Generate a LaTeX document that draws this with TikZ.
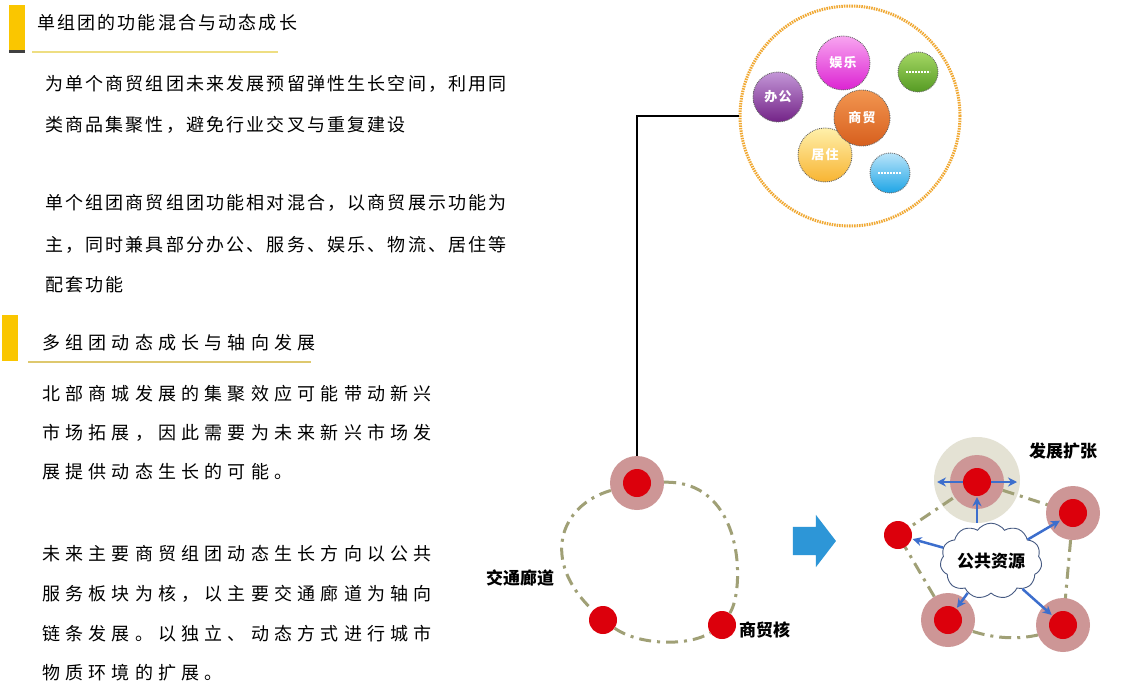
\documentclass[tikz,border=0pt]{standalone}
\usepackage{fontspec}
\setmainfont{Noto Sans CJK SC}
\usetikzlibrary{shapes.symbols,shapes.arrows,arrows.meta}
\definecolor{barY}{RGB}{250,198,0}
\definecolor{lineY}{RGB}{238,222,130}
\definecolor{lineG}{RGB}{222,200,110}
\definecolor{haloC}{RGB}{205,150,150}
\definecolor{bigHalo}{RGB}{228,226,212}
\definecolor{coreR}{RGB}{220,0,12}
\definecolor{roadC}{RGB}{160,160,118}
\definecolor{arrowB}{RGB}{60,110,205}
\definecolor{blockB}{RGB}{45,150,215}
\definecolor{cloudC}{RGB}{70,90,130}
\definecolor{ringO}{RGB}{240,168,50}
\newcommand\bodyA{\fontsize{18}{18}\selectfont\addfontfeatures{LetterSpace=12}}
\newcommand\bodyB{\fontsize{18}{18}\selectfont\addfontfeatures{LetterSpace=29}}
\tikzset{
  txtA/.style={anchor=west,inner sep=0,font=\bodyA},
  txtB/.style={anchor=west,inner sep=0,font=\bodyB},
  lab/.style={inner sep=0,font=\fontsize{17}{17}\selectfont\bfseries},
  halo/.style={circle,fill=haloC,minimum size=54,inner sep=0},
  core/.style={circle,fill=coreR,minimum size=28,inner sep=0},
  road/.style={draw=roadC,line width=3,dash pattern=on 12pt off 6pt on 3pt off 6pt},
  barrow/.style={draw=arrowB,line width=2.5,-{Stealth[length=9pt,width=9pt]},shorten >=1pt},
  bubble/.style={circle,inner sep=0,text=white,line width=0.9,densely dotted,
     font=\fontsize{13}{13}\selectfont\bfseries\addfontfeatures{LetterSpace=10}},
}
\begin{document}
\begin{tikzpicture}[x=1pt,y=-1pt]
\useasboundingbox (0,0) rectangle (1122,685);
\fill[white] (0,0) rectangle (1122,685);

% ---------- headings ----------
\fill[barY] (9,5) rectangle (25,50);
\fill[black!75] (9,50) rectangle (25,53);
\fill[lineY] (32,51.5) rectangle (278,53.5);
\node[txtA] (h1) at (37,23) {单组团的功能混合与动态成长};

\fill[barY] (2,315) rectangle (18,361);
\fill[lineG] (28,360.5) rectangle (311,362.5);
\node[txtB] (h2) at (42,343) {多组团动态成长与轴向发展};

% ---------- paragraphs ----------
\node[txtA] (p1a) at (45,84)  {为单个商贸组团未来发展预留弹性生长空间，利用同};
\node[txtA] (p1b) at (45,125) {类商品集聚性，避免行业交叉与重复建设};
\node[txtA] (p2a) at (45,203) {单个组团商贸组团功能相对混合，以商贸展示功能为};
\node[txtA] (p2b) at (45,245) {主，同时兼具部分办公、服务、娱乐、物流、居住等};
\node[txtA] (p2c) at (45,285) {配套功能};

\node[txtB] (p3a) at (42,394) {北部商城发展的集聚效应可能带动新兴};
\node[txtB] (p3b) at (42,433) {市场拓展，因此需要为未来新兴市场发};
\node[txtB] (p3c) at (42,472) {展提供动态生长的可能。};

\node[txtB] (p4a) at (42,554) {未来主要商贸组团动态生长方向以公共};
\node[txtB] (p4b) at (42,594) {服务板块为核，以主要交通廊道为轴向};
\node[txtB] (p4c) at (42,634) {链条发展。以独立、动态方式进行城市};
\node[txtB] (p4d) at (42,673) {物质环境的扩展。};

% ---------- function ring ----------
\node[circle,draw=ringO,line width=3,dash pattern=on 1.5pt off 1pt,minimum size=220,inner sep=0] (ring) at (850,116) {};
\node[bubble,top color={rgb,255:red,255;green,240;blue,170},bottom color={rgb,255:red,248;green,180;blue,50},draw=black!60,minimum size=54] (b5) at (825,155) {居住};
\node[bubble,top color={rgb,255:red,185;green,228;blue,250},bottom color={rgb,255:red,30;green,165;blue,230},draw=black!60,minimum size=40] (b6) at (890,173) {};
\node[bubble,top color={rgb,255:red,195;green,150;blue,215},bottom color={rgb,255:red,115;green,35;blue,135},draw=black!60,minimum size=50] (b1) at (778,97) {办公};
\node[bubble,top color={rgb,255:red,248;green,165;blue,240},bottom color={rgb,255:red,220;green,35;blue,210},draw=black!60,minimum size=54] (b2) at (843,63) {娱乐};
\node[bubble,top color={rgb,255:red,165;green,215;blue,100},bottom color={rgb,255:red,85;green,155;blue,35},draw=black!60,minimum size=40] (b3) at (918,72) {};
\node[bubble,top color={rgb,255:red,242;green,150;blue,80},bottom color={rgb,255:red,215;green,95;blue,30},draw=black!60,minimum size=56] (b4) at (862,118) {商贸};
\draw[white,line width=2,densely dotted] (b3.center) ++(-12,0) -- ++(24,0);
\draw[white,line width=2,densely dotted] (b6.center) ++(-12,0) -- ++(24,0);

% ---------- left cluster ----------
\node[halo] (L1h) at (637,483) {};
\node[core] (L1) at (637,483) {};
\node[core] (L2) at (603,620) {};
\node[core] (L3) at (722,625) {};
\draw[road] (L1h) .. controls (560,505) and (540,560) .. (L2);
\draw[road] (L1h) .. controls (745,480) and (745,590) .. (L3);
\draw[road] (L2) .. controls (640,646) and (690,646) .. (L3);

\draw[line width=1.2] (ring.west) -| (L1h.north);

\node[lab] (lbl1) at (520,578) {交通廊道};
\node[lab,anchor=west] (lbl2) at (739,630) {商贸核};

% ---------- block arrow ----------
\node[single arrow,fill=blockB,inner sep=0,minimum height=43,minimum width=52,
      single arrow head extend=12,single arrow tip angle=105] (big) at (809,541) {\rule{0pt}{28pt}};

% ---------- right cluster ----------
\coordinate (T) at (977,482);
\coordinate (RT) at (1073,513);
\coordinate (Lf) at (898,535);
\coordinate (BL) at (948,620);
\coordinate (BR) at (1063,625);
\node[circle,fill=bigHalo,minimum size=86,inner sep=0] (Tbig) at (977,480) {};
\draw[road] (T) -- (RT);
\draw[road] (RT) -- (BR);
\draw[road] (BR) .. controls (1030,645) and (980,640) .. (BL);
\draw[road] (BL) -- (Lf);
\draw[road] (Lf) -- (T);
\node[halo] (Th) at (T) {};
\node[halo] (RTh) at (RT) {};
\node[halo] (BLh) at (BL) {};
\node[halo] (BRh) at (BR) {};
\node[core] (Tc) at (T) {};
\node[core] (RTc) at (RT) {};
\node[core] (Lfc) at (Lf) {};
\node[core] (BLc) at (BL) {};
\node[core] (BRc) at (BR) {};

\node[cloud,draw=cloudC,fill=white,line width=0.9,cloud puffs=11,cloud puff arc=110,aspect=1.5,
      minimum width=98,minimum height=68,inner sep=0,font=\fontsize{17}{17}\selectfont\bfseries] (cl) at (991,561) {公共资源};

\coordinate (Tl) at (936,482);
\coordinate (Tr) at (1018,482);
\draw[barrow] (Tc.west) -- (Tl);
\draw[barrow] (Tc.east) -- (Tr);
\draw[barrow] (cl.north -| Tc) -- (Tc);
\draw[barrow] (cl) -- (RTc);
\draw[barrow] (cl) -- (Lfc);
\draw[barrow] (cl) -- (BLc);
\draw[barrow] (cl) -- (BRc);

\node[lab] (lbl3) at (1063,451) {发展扩张};
\end{tikzpicture}
\end{document}
